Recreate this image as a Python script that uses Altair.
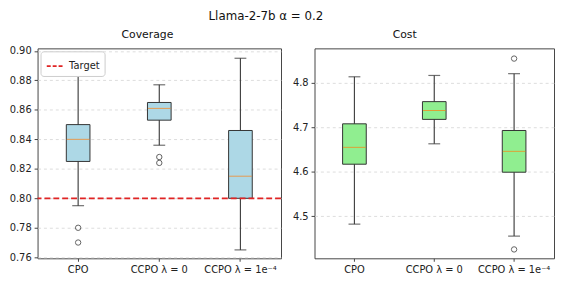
import altair as alt
import pandas as pd

categories = ["CPO", "CCPO λ = 0", "CCPO λ = 1e⁻⁴"]

# Coverage box stats
cov_wlo = [0.795, 0.836, 0.765]
cov_q1 = [0.825, 0.853, 0.800]
cov_med = [0.840, 0.861, 0.815]
cov_q3 = [0.850, 0.865, 0.846]
cov_whi = [0.885, 0.877, 0.895]
cov_out_cat = ["CPO", "CPO", "CCPO λ = 0", "CCPO λ = 0"]
cov_out_val = [0.780, 0.770, 0.828, 0.824]
target = [0.80]
cov_ticks = [0.76, 0.78, 0.80, 0.82, 0.84, 0.86, 0.88, 0.90]

# Cost box stats
cost_wlo = [4.482, 4.663, 4.455]
cost_q1 = [4.617, 4.718, 4.599]
cost_med = [4.655, 4.738, 4.646]
cost_q3 = [4.708, 4.758, 4.693]
cost_whi = [4.814, 4.817, 4.821]
cost_out_cat = ["CCPO λ = 1e⁻⁴", "CCPO λ = 1e⁻⁴"]
cost_out_val = [4.855, 4.425]
cost_ticks = [4.5, 4.6, 4.7, 4.8]

FONT = "DejaVu Sans"
H = 213


def panel(title, dx, dy, width, wlo, q1, med, q3, whi, out_cat, out_val, fill, domain, ticks, fmt, with_target):
    df = pd.DataFrame({"cat": categories, "wlo": wlo, "q1": q1, "med": med, "q3": q3, "whi": whi})
    dout = pd.DataFrame({"cat": out_cat, "v": out_val})
    xaxis = alt.Axis(labelAngle=0, labelFontSize=10, labelFont=FONT, labelColor="#222",
                     domain=False, ticks=True, tickSize=3, tickColor="#444",
                     labelPadding=3, grid=False, labelOverlap=False)
    xscale = alt.Scale(paddingInner=0, paddingOuter=0)
    yscale = alt.Scale(domain=domain, nice=False, zero=False)
    yaxis = alt.Axis(values=ticks, format=fmt, labelFontSize=10, labelFont=FONT, labelColor="#222",
                     domain=False, tickSize=3.5, tickColor="#444", labelPadding=3,
                     labelOverlap=False, labelFlush=False,
                     grid=True, gridDash=[3, 3], gridColor="#d4d4d4", gridWidth=0.8)

    def X():
        return alt.X("cat:N", sort=categories, title=None, scale=xscale, axis=xaxis)

    def Y(f):
        return alt.Y(f, scale=yscale, axis=yaxis, title=None)

    base = alt.Chart(df)
    whisk = base.mark_rule(color="#444", strokeWidth=1.2).encode(x=X(), y=Y("wlo:Q"), y2="whi:Q")
    box = base.mark_bar(size=24, fill=fill, stroke="#333", strokeWidth=1).encode(
        x=X(), y=Y("q1:Q"), y2="q3:Q")
    medt = base.mark_tick(color="#ff7f0e", size=23, thickness=1, orient="horizontal").encode(
        x=X(), y=Y("med:Q"))
    caplo = base.mark_tick(color="#333", size=12, thickness=1.2, orient="horizontal").encode(
        x=X(), y=Y("wlo:Q"))
    caphi = base.mark_tick(color="#333", size=12, thickness=1.2, orient="horizontal").encode(
        x=X(), y=Y("whi:Q"))
    outl = alt.Chart(dout).mark_point(shape="circle", filled=False, size=30, color="#222",
                                      strokeWidth=1).encode(x=X(), y=Y("v:Q"))
    layers = [whisk, box, medt, caplo, caphi, outl]
    if with_target:
        dt = pd.DataFrame({"t": target, "label": ["Target"]})
        tl = alt.Chart(dt).mark_rule(strokeDash=[6, 3], strokeWidth=1.8).encode(
            y=Y("t:Q"),
            color=alt.Color("label:N", scale=alt.Scale(domain=["Target"], range=["#e02424"]),
                            legend=alt.Legend(title=None, orient="top-left", symbolType="stroke",
                                              symbolDash=[4, 2], symbolStrokeWidth=1.8, symbolSize=300,
                                              labelFontSize=10, labelFont=FONT, labelColor="#222",
                                              strokeColor="#cccccc", fillColor="white", padding=5,
                                              cornerRadius=3, offset=3)))
        layers.append(tl)
    return alt.layer(*layers).properties(
        width=width, height=H,
        title=alt.TitleParams(title, fontSize=11, font=FONT, fontWeight="normal", color="#111",
                              offset=6, dx=dx, dy=dy, frame="group"))


left = panel("Coverage", -12, 0, 247, cov_wlo, cov_q1, cov_med, cov_q3, cov_whi, cov_out_cat, cov_out_val,
             "#add8e6", [0.7593, 0.9017], cov_ticks, ".2f", True)
right = panel("Cost", -30, -3, 243, cost_wlo, cost_q1, cost_med, cost_q3, cost_whi, cost_out_cat, cost_out_val,
              "#90ee90", [4.405, 4.878], cost_ticks, ".1f", False)

chart = alt.hconcat(left, right, spacing=34, bounds="flush").resolve_scale(
    y="independent", color="independent").properties(
    title=alt.TitleParams("Llama-2-7b α = 0.2", fontSize=12, font=FONT, fontWeight="normal",
                          color="#111", anchor="middle", offset=5, dx=-16),
    padding={"left": 0, "top": 0, "right": 0, "bottom": 0},
).configure_view(stroke="#444", strokeWidth=1)

chart.save("out.html", embed_options={"renderer": "svg", "actions": False})
